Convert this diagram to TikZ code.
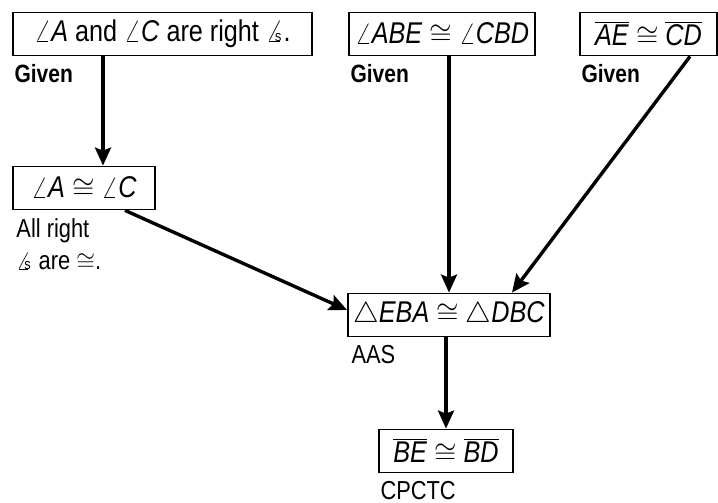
\documentclass[tikz,border=0pt]{standalone}
\usepackage{fontspec}
\setmainfont{Liberation Sans}[FakeStretch=0.84]
\usetikzlibrary{arrows.meta,positioning}

% angle / angles / segment helpers
\newcommand{\ang}[1]{$\angle$\textit{#1}}
\newcommand{\angs}{\rlap{$\angle$}\hspace{0.3em}\raisebox{0.02ex}{\fontsize{7.5}{7.5}\selectfont s}\hspace{0.08em}}
\newcommand{\seg}[1]{$\overline{\mbox{\textit{#1}}}$}
\newcommand{\tri}[1]{$\triangle$\textit{#1}}

\begin{document}
\begin{tikzpicture}[
    x=0.5pt, y=-0.5pt,
    every node/.style={font=\fontsize{15}{17}\selectfont},
    stmt/.style={draw, line width=0.9pt, inner sep=0pt, minimum height=21.5pt},
    reason/.style={align=left, inner sep=0pt, font=\fontsize{13}{16}\selectfont},
    given/.style={reason, font=\fontsize{12.5}{14}\selectfont\bfseries},
    flow/.style={-{Stealth[length=9pt, width=8pt, inset=1.5pt]}, line width=1.7pt}
]
\useasboundingbox (0,0) rectangle (718,503);

\node[stmt, minimum width=149.5pt] (rightangs) at (162.5,34) {\ang{A} and \ang{C} are right \angs.};
\node[stmt, minimum width=93pt] (givenangs) at (442,34) {\ang{ABE} $\cong$ \ang{CBD}};
\node[stmt, minimum width=68.5pt] (givensegs) at (648.5,34) {\seg{AE} $\cong$ \seg{CD}};
\node[stmt, minimum width=71pt] (angcong) at (84,188) {\ang{A} $\cong$ \ang{C}};
\node[stmt, minimum width=101pt] (tricong) at (449,315) {\tri{EBA} $\cong$ \tri{DBC}};
\node[stmt, minimum width=67pt] (segcong) at (446,451) {\seg{BE} $\cong$ \seg{BD}};

\node[given, below=4pt of rightangs.south west, anchor=north west, xshift=1pt] (r1) {Given};
\node[given, below=4pt of givenangs.south west, anchor=north west, xshift=1pt] (r2) {Given};
\node[given, below=4pt of givensegs.south west, anchor=north west, xshift=1pt] (r3) {Given};
\node[reason, below=4pt of angcong.south west, anchor=north west, xshift=2pt] (r4) {All right\\\angs{} are $\cong$.};
\node[reason, below=4pt of tricong.south west, anchor=north west, xshift=2pt] (r5) {AAS};
\node[reason, below=4pt of segcong.south west, anchor=north west, xshift=1pt] (r6) {CPCTC};

\draw[flow] ([xshift=9.5pt]angcong.north |- rightangs.south) -- ([xshift=9.5pt]angcong.north);
\draw[flow] (tricong.north |- givenangs.south) -- (tricong.north);
\draw[flow] ([xshift=20.75pt]givensegs.south) -- ([xshift=31.5pt]tricong.north);
\draw[flow] ([xshift=20.5pt]angcong.south) -- ([yshift=2.5pt]tricong.west);
\draw[flow] (segcong.north |- tricong.south) -- (segcong.north);
\end{tikzpicture}
\end{document}
